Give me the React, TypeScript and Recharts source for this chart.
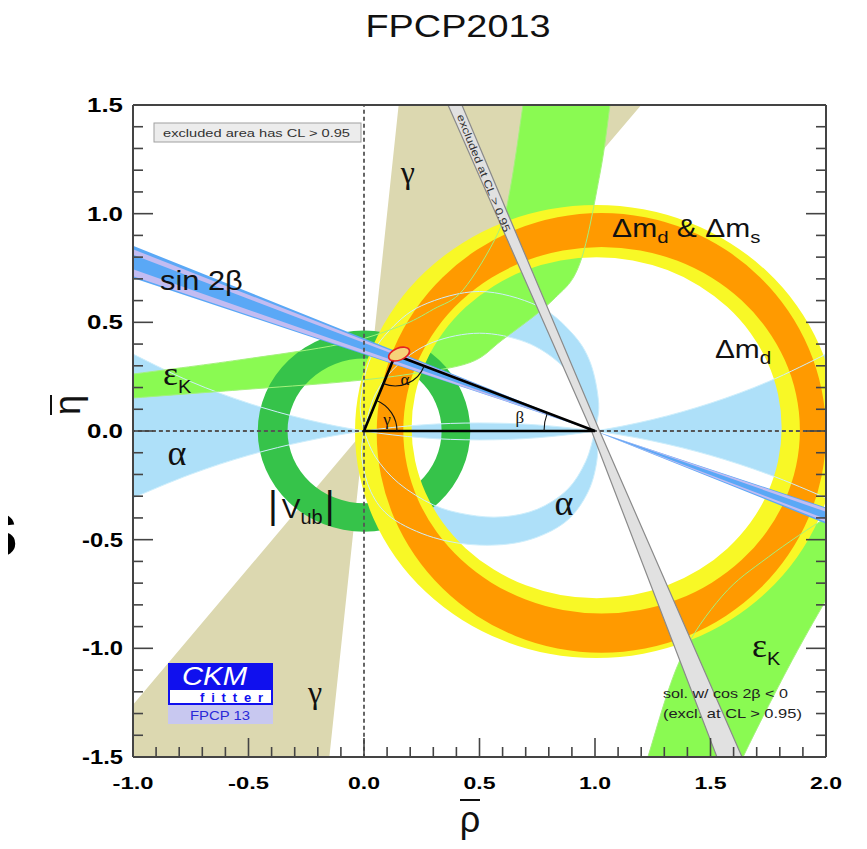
import React from 'react';
import { ComposedChart, Scatter, XAxis, YAxis } from 'recharts';

type Pt = { x: number; y: number };

const W = 851;
const H = 833;

// ---------- axes ----------
const rhoTicks = [-1.0, -0.9, -0.8, -0.7, -0.6, -0.5, -0.4, -0.3, -0.2, -0.1, 0.0, 0.1, 0.2, 0.3, 0.4, 0.5, 0.6, 0.7, 0.8, 0.9, 1.0, 1.1, 1.2, 1.3, 1.4, 1.5, 1.6, 1.7, 1.8, 1.9, 2.0];
const etaTicks = [-1.5, -1.4, -1.3, -1.2, -1.1, -1.0, -0.9, -0.8, -0.7, -0.6, -0.5, -0.4, -0.3, -0.2, -0.1, 0.0, 0.1, 0.2, 0.3, 0.4, 0.5, 0.6, 0.7, 0.8, 0.9, 1.0, 1.1, 1.2, 1.3, 1.4, 1.5];
const rhoMajor = [-1.0, -0.5, 0.0, 0.5, 1.0, 1.5, 2.0];
const rhoMajorLabels = ['-1.0', '-0.5', '0.0', '0.5', '1.0', '1.5', '2.0'];
const etaMajor = [-1.5, -1.0, -0.5, 0.0, 0.5, 1.0, 1.5];
const etaMajorLabels = ['-1.5', '-1.0', '-0.5', '0.0', '0.5', '1.0', '1.5'];

// ---------- constraint regions (rho-bar, eta-bar) ----------
const gammaWedge: Pt[] = [
  { x: 0, y: 0 }, { x: 0.16, y: 1.6 }, { x: 1.28, y: 1.6 },
  { x: 0, y: 0 }, { x: -1.27, y: -1.6 }, { x: -0.16, y: -1.6 },
];
const alphaAxisU: Pt[] = [
  { x: -1.1, y: 0.414 }, { x: -1.0, y: 0.354 }, { x: -0.75, y: 0.227 }, { x: -0.5, y: 0.128 }, { x: -0.25, y: 0.053 },
  { x: 0.0, y: 0.0 }, { x: 0.25, y: -0.031 }, { x: 0.5, y: -0.041 }, { x: 0.75, y: -0.031 }, { x: 1.0, y: 0.0 },
  { x: 1.25, y: 0.053 }, { x: 1.5, y: 0.128 }, { x: 1.75, y: 0.227 }, { x: 2.0, y: 0.354 }, { x: 2.1, y: 0.414 },
];
const alphaAxisL: Pt[] = [
  { x: 2.1, y: -0.359 }, { x: 2.0, y: -0.308 }, { x: 1.75, y: -0.199 }, { x: 1.5, y: -0.112 }, { x: 1.25, y: -0.046 },
  { x: 1.0, y: 0.0 }, { x: 0.75, y: 0.028 }, { x: 0.5, y: 0.037 }, { x: 0.25, y: 0.028 }, { x: 0.0, y: 0.0 },
  { x: -0.25, y: -0.046 }, { x: -0.5, y: -0.112 }, { x: -0.75, y: -0.199 }, { x: -1.0, y: -0.308 }, { x: -1.1, y: -0.359 },
];
const alphaUpOuter: Pt[] = [
  { x: 0, y: 0 }, { x: -0.016, y: 0.126 }, { x: 0.02, y: 0.314 }, { x: 0.1, y: 0.451 }, { x: 0.25, y: 0.577 },
  { x: 0.5, y: 0.642 }, { x: 0.75, y: 0.577 }, { x: 0.9, y: 0.451 }, { x: 0.98, y: 0.314 }, { x: 1.016, y: 0.126 }, { x: 1, y: 0 },
];
const alphaUpInner: Pt[] = [
  { x: 1, y: 0 }, { x: 0.95, y: 0.171 }, { x: 0.85, y: 0.308 }, { x: 0.7, y: 0.409 }, { x: 0.5, y: 0.45 },
  { x: 0.3, y: 0.409 }, { x: 0.15, y: 0.308 }, { x: 0.05, y: 0.171 }, { x: 0, y: 0 },
];
const alphaLoOuter: Pt[] = [
  { x: 0, y: 0 }, { x: -0.01, y: -0.12 }, { x: 0.03, y: -0.28 }, { x: 0.12, y: -0.4 }, { x: 0.3, y: -0.49 },
  { x: 0.5, y: -0.525 }, { x: 0.7, y: -0.505 }, { x: 0.87, y: -0.42 }, { x: 0.97, y: -0.28 }, { x: 1.01, y: -0.12 }, { x: 1, y: 0 },
];
const alphaLoInner: Pt[] = [
  { x: 1, y: 0 }, { x: 0.96, y: -0.14 }, { x: 0.88, y: -0.27 }, { x: 0.75, y: -0.36 }, { x: 0.6, y: -0.395 },
  { x: 0.45, y: -0.385 }, { x: 0.3, y: -0.34 }, { x: 0.15, y: -0.24 }, { x: 0.05, y: -0.12 }, { x: 0, y: 0 },
];
const epsKUpHi: Pt[] = [
  { x: -1.1, y: 0.248 }, { x: -1.0, y: 0.262 }, { x: -0.54, y: 0.327 }, { x: -0.1, y: 0.4 }, { x: 0.15, y: 0.48 },
  { x: 0.3, y: 0.56 }, { x: 0.429, y: 0.649 }, { x: 0.58, y: 0.911 }, { x: 0.632, y: 1.109 }, { x: 0.688, y: 1.5 }, { x: 0.71, y: 1.7 },
];
const epsKUpLo: Pt[] = [
  { x: 1.09, y: 1.7 }, { x: 1.065, y: 1.5 }, { x: 1.022, y: 1.187 }, { x: 0.935, y: 0.773 }, { x: 0.818, y: 0.603 },
  { x: 0.6, y: 0.42 }, { x: 0.459, y: 0.315 }, { x: 0.2, y: 0.262 }, { x: -0.1, y: 0.225 }, { x: -0.54, y: 0.189 },
  { x: -1.0, y: 0.152 }, { x: -1.1, y: 0.145 },
];
const epsKLoA: Pt[] = [
  { x: 2.1, y: -0.36 }, { x: 2.0, y: -0.4 }, { x: 1.75, y: -0.58 }, { x: 1.55, y: -0.76 }, { x: 1.368, y: -1.054 },
  { x: 1.229, y: -1.5 }, { x: 1.2, y: -1.62 },
];
const epsKLoB: Pt[] = [
  { x: 1.6, y: -1.62 }, { x: 1.641, y: -1.5 }, { x: 1.831, y: -1.1 }, { x: 2.0, y: -0.778 }, { x: 2.1, y: -0.61 },
];
// rings: [left, right, top, bottom]
const vubOuter = [-0.46, 0.46, 0.462, -0.463];
const vubInner = [-0.331, 0.336, 0.334, -0.333];
const dmdOuter = [-0.039, 2.05, 1.04, -1.045];
const dmdInner = [0.206, 1.808, 0.8, -0.77];
const dmsOuter = [0.055, 2.0, 1.003, -1.02];
const dmsInner = [0.17, 1.887, 0.847, -0.84];
const sin2bBand: Pt[] = [{ x: -1.1, y: 0.895 }, { x: 2.1, y: -0.469 }, { x: 2.1, y: -0.387 }, { x: -1.1, y: 0.739 }];
const sin2bStripeA: Pt[] = [{ x: -1.1, y: 0.878 }, { x: 2.1, y: -0.46 }, { x: 2.1, y: -0.446 }, { x: -1.1, y: 0.851 }];
const sin2bStripeB: Pt[] = [{ x: -1.1, y: 0.781 }, { x: 2.1, y: -0.409 }, { x: 2.1, y: -0.392 }, { x: -1.1, y: 0.748 }];
const cos2bExcl: Pt[] = [
  { x: 0.343, y: 1.55 }, { x: 0.985, y: 0 }, { x: 1.546, y: -1.55 },
  { x: 1.657, y: -1.55 }, { x: 1.02, y: 0 }, { x: 0.404, y: 1.55 },
];
const triangle: Pt[] = [{ x: 0, y: 0 }, { x: 1, y: 0 }, { x: 0.135, y: 0.35 }];
const fitPoint: Pt[] = [{ x: 0.152, y: 0.354 }];
const zeroV: Pt[] = [{ x: 0, y: -1.6 }, { x: 0, y: 1.6 }];
const zeroH: Pt[] = [{ x: -1.1, y: 0 }, { x: 2.1, y: 0 }];

// ---------- styling ----------
const C = {
  gamma: '#dcd8b0', alpha: '#aee0f9', alphaLine: '#cdeefc', epsK: '#8afa52', epsKLine: '#a4f27c',
  vub: '#36c34a', dmd: '#f8f826', dms: '#ff9a00',
  s2b: '#5aa8f6', s2bStripe: '#c2bcf2', excl: '#e1e1e1', exclEdge: '#8a8a8a',
};
const SANS = '"Liberation Sans", Arial, Helvetica, sans-serif';
const SERIF = '"Liberation Serif", "Times New Roman", serif';

// ---------- path helpers ----------
const f = (n: number) => n.toFixed(2);
function polyD(p: Pt[]) {
  return p.map((q, i) => (i ? 'L' : 'M') + f(q.x) + ',' + f(q.y)).join('') + 'Z';
}
function lineD(p: Pt[]) {
  return p.map((q, i) => (i ? 'L' : 'M') + f(q.x) + ',' + f(q.y)).join('');
}
function smoothD(p: Pt[], start: string) {
  let d = start + f(p[0].x) + ',' + f(p[0].y);
  for (let i = 0; i < p.length - 1; i++) {
    const p0 = p[i - 1] || p[i];
    const p1 = p[i];
    const p2 = p[i + 1];
    const p3 = p[i + 2] || p[i + 1];
    d += 'C' + f(p1.x + (p2.x - p0.x) / 6) + ',' + f(p1.y + (p2.y - p0.y) / 6) + ' ' +
      f(p2.x - (p3.x - p1.x) / 6) + ',' + f(p2.y - (p3.y - p1.y) / 6) + ' ' + f(p2.x) + ',' + f(p2.y);
  }
  return d;
}
function bandD(p: Pt[], n: number) {
  return smoothD(p.slice(0, n), 'M') + smoothD(p.slice(n), 'L') + 'Z';
}
function edgesD(p: Pt[], n: number) {
  return smoothD(p.slice(0, n), 'M') + smoothD(p.slice(n), 'M');
}
function ext(e: number[]): Pt[] {
  const [l, r, t, b] = e;
  const cy = (t + b) / 2;
  const cx = (l + r) / 2;
  return [{ x: l, y: cy }, { x: r, y: cy }, { x: cx, y: t }, { x: cx, y: b }];
}
function ellD(p: Pt[]) {
  const [L, R, T, B] = p;
  const cx = (L.x + R.x) / 2;
  const cy = (T.y + B.y) / 2;
  const rx = Math.abs(R.x - L.x) / 2;
  const ry = Math.abs(B.y - T.y) / 2;
  return `M${f(cx - rx)},${f(cy)}A${f(rx)},${f(ry)} 0 1 0 ${f(cx + rx)},${f(cy)}A${f(rx)},${f(ry)} 0 1 0 ${f(cx - rx)},${f(cy)}Z`;
}
function angleArc(V: Pt, P: Pt, Q: Pt, r: number) {
  const a1 = Math.atan2(P.y - V.y, P.x - V.x);
  const a2 = Math.atan2(Q.y - V.y, Q.x - V.x);
  let d = a2 - a1;
  while (d > Math.PI) d -= 2 * Math.PI;
  while (d < -Math.PI) d += 2 * Math.PI;
  const s = { x: V.x + r * Math.cos(a1), y: V.y + r * Math.sin(a1) };
  const e = { x: V.x + r * Math.cos(a2), y: V.y + r * Math.sin(a2) };
  return `M${f(s.x)},${f(s.y)}A${r},${r} 0 0 ${d > 0 ? 1 : 0} ${f(e.x)},${f(e.y)}`;
}

const Nothing = () => null;

function region(key: string, data: Pt[], draw: (p: Pt[]) => React.ReactElement) {
  return (
    <Scatter
      key={key}
      data={data}
      isAnimationActive={false}
      legendType="none"
      shape={Nothing}
      line={(lp: any) => (lp && lp.points && lp.points.length === data.length ? draw(lp.points) : <g />)}
    />
  );
}

function label(key: string, at: Pt, draw: (cx: number, cy: number) => React.ReactElement) {
  return (
    <Scatter
      key={key}
      data={[at]}
      isAnimationActive={false}
      legendType="none"
      shape={(p: any) => draw(p.cx, p.cy)}
    />
  );
}

function ST(props: any) {
  const { x, y, sx = 1, anchor = 'start', children, ...rest } = props;
  return (
    <g transform={`translate(${f(x)},${f(y)}) scale(${sx},1)`}>
      <text x={0} y={0} textAnchor={anchor} {...rest}>{children}</text>
    </g>
  );
}

// ---------- ticks ----------
const near = (a: number, b: number) => Math.abs(a - b) < 1e-6;
const TICK = '#444';
function BottomTick(props: any) {
  const { x, y, payload } = props;
  const i = rhoMajor.findIndex((m) => near(m, payload.value));
  const lab = i >= 0 ? rhoMajorLabels[i] : null;
  return (
    <g>
      <line x1={x} x2={x} y1={y} y2={y - (lab ? 19 : 10)} stroke={TICK} strokeWidth={1.6} />
      {lab && (
        <text x={x} y={y + 32} textAnchor="middle" fontFamily={SANS} fontWeight="bold" fontSize={17}
          textLength={lab.length > 3 ? 41 : 32} lengthAdjust="spacingAndGlyphs" fill="#000">{lab}</text>
      )}
    </g>
  );
}
function TopTick(props: any) {
  const { x, y, payload } = props;
  const major = rhoMajor.some((m) => near(m, payload.value));
  return <line x1={x} x2={x} y1={y} y2={y + (major ? 19 : 10)} stroke={TICK} strokeWidth={1.6} />;
}
function LeftTick(props: any) {
  const { x, y, payload } = props;
  const i = etaMajor.findIndex((m) => near(m, payload.value));
  const lab = i >= 0 ? etaMajorLabels[i] : null;
  return (
    <g>
      <line x1={x} x2={x + (lab ? 20 : 10)} y1={y} y2={y} stroke={TICK} strokeWidth={1.6} />
      {lab && (
        <text x={x - 10} y={y + 7} textAnchor="end" fontFamily={SANS} fontWeight="bold" fontSize={20}
          textLength={lab.length > 3 ? 41 : 36} lengthAdjust="spacingAndGlyphs" fill="#000">{lab}</text>
      )}
    </g>
  );
}
function RightTick(props: any) {
  const { x, y, payload } = props;
  const major = etaMajor.some((m) => near(m, payload.value));
  return <line x1={x} x2={x - (major ? 20 : 10)} y1={y} y2={y} stroke={TICK} strokeWidth={1.6} />;
}

const axisLine = { stroke: '#444', strokeWidth: 2 };

export default function App() {
  const bigGreek = { fontFamily: SERIF, fontSize: 36, fill: '#111' };
  const thin = { fill: 'none', strokeWidth: 1 };
  return (
    <div style={{ position: 'relative', width: W, height: H }}>
      <ComposedChart width={W} height={H} margin={{ top: 77, right: 13, bottom: 44, left: 65 }}>
        {region('gamma', gammaWedge, (p) => <path d={polyD(p)} fill={C.gamma} />)}
        {region('alphaAxis', [...alphaAxisU, ...alphaAxisL], (p) => <path d={bandD(p, alphaAxisU.length)} fill={C.alpha} />)}
        {region('alphaUp', [...alphaUpOuter, ...alphaUpInner], (p) => <path d={bandD(p, alphaUpOuter.length)} fill={C.alpha} />)}
        {region('alphaLo', [...alphaLoOuter, ...alphaLoInner], (p) => <path d={bandD(p, alphaLoOuter.length)} fill={C.alpha} />)}
        {region('epsKUp', [...epsKUpHi, ...epsKUpLo], (p) => <path d={bandD(p, epsKUpHi.length)} fill={C.epsK} />)}
        {region('epsKLo', [...epsKLoA, ...epsKLoB], (p) => <path d={bandD(p, epsKLoA.length)} fill={C.epsK} />)}
        {region('vub', [...ext(vubOuter), ...ext(vubInner)], (p) => (
          <path d={ellD(p.slice(0, 4)) + ellD(p.slice(4))} fill={C.vub} fillRule="evenodd" />
        ))}
        {region('dmd', [...ext(dmdOuter), ...ext(dmdInner)], (p) => (
          <path d={ellD(p.slice(0, 4)) + ellD(p.slice(4))} fill={C.dmd} fillRule="evenodd" />
        ))}
        {region('dms', [...ext(dmsOuter), ...ext(dmsInner)], (p) => (
          <path d={ellD(p.slice(0, 4)) + ellD(p.slice(4))} fill={C.dms} fillRule="evenodd" />
        ))}
        {region('alphaAxisLine', [...alphaAxisU, ...alphaAxisL], (p) => <path d={edgesD(p, alphaAxisU.length)} stroke={C.alphaLine} {...thin} />)}
        {region('alphaUpLine', [...alphaUpOuter, ...alphaUpInner], (p) => <path d={edgesD(p, alphaUpOuter.length)} stroke={C.alphaLine} {...thin} />)}
        {region('alphaLoLine', [...alphaLoOuter, ...alphaLoInner], (p) => <path d={edgesD(p, alphaLoOuter.length)} stroke={C.alphaLine} {...thin} />)}
        {region('epsKUpLine', [...epsKUpHi, ...epsKUpLo], (p) => <path d={edgesD(p, epsKUpHi.length)} stroke={C.epsKLine} {...thin} />)}
        {region('epsKLoLine', [...epsKLoA, ...epsKLoB], (p) => <path d={edgesD(p, epsKLoA.length)} stroke={C.epsKLine} {...thin} />)}

        {region('s2b', sin2bBand, (p) => <path d={polyD(p)} fill={C.s2b} />)}
        {region('s2bA', sin2bStripeA, (p) => <path d={polyD(p)} fill={C.s2bStripe} />)}
        {region('s2bB', sin2bStripeB, (p) => <path d={polyD(p)} fill={C.s2bStripe} />)}
        {region('excl', cos2bExcl, (p) => <path d={polyD(p)} fill={C.excl} stroke={C.exclEdge} strokeWidth={1.2} />)}
        {region('zeroV', zeroV, (p) => <path d={lineD(p)} stroke="#555" strokeWidth={1.8} strokeDasharray="4 3" fill="none" />)}
        {region('zeroH', zeroH, (p) => <path d={lineD(p)} stroke="#555" strokeWidth={1.8} strokeDasharray="4 3" fill="none" />)}
        {region('tri', triangle, (p) => {
          const [A, B, Cc] = p;
          return (
            <g>
              <path d={polyD(p)} fill="none" stroke="#000" strokeWidth={2.6} strokeLinejoin="miter" />
              <path d={angleArc(A, B, Cc, 33) + angleArc(B, Cc, A, 51) + angleArc(Cc, A, B, 31)} fill="none" stroke="#111" strokeWidth={1.1} />
            </g>
          );
        })}
        {region('fit', fitPoint, (p) => (
          <ellipse cx={p[0].x} cy={p[0].y} rx={11} ry={6} transform={`rotate(-22 ${f(p[0].x)} ${f(p[0].y)})`}
            fill="#f6d27a" stroke="#e52222" strokeWidth={1.6} />
        ))}

        {label('lSin2b', { x: -0.883, y: 0.649 }, (x, y) => (
          <ST x={x} y={y} sx={1.1} fontFamily={SANS} fontSize={28} fill="#111">sin 2β</ST>
        ))}
        {label('lEpsK1', { x: -0.87, y: 0.212 }, (x, y) => (
          <ST x={x} y={y} sx={1.05} fontFamily={SERIF} fontSize={34} fill="#111">ε<tspan fontFamily={SANS} fontSize={19} dy={8}>K</tspan></ST>
        ))}
        {label('lAlpha1', { x: -0.81, y: -0.156 }, (x, y) => (
          <ST x={x} y={y} anchor="middle" {...bigGreek}>α</ST>
        ))}
        {label('lVub', { x: -0.416, y: -0.4 }, (x, y) => (
          <ST x={x} y={y} fontFamily={SANS} fontSize={28} fill="#111">
            <tspan fontSize={38}>|</tspan><tspan dx={4}>V</tspan><tspan fontSize={20} dy={6}>ub</tspan><tspan fontSize={38} dy={-6} dx={2}>|</tspan>
          </ST>
        ))}
        {label('lAlpha2', { x: 0.866, y: -0.387 }, (x, y) => (
          <ST x={x} y={y} anchor="middle" {...bigGreek}>α</ST>
        ))}
        {label('lDmds', { x: 1.074, y: 0.893 }, (x, y) => (
          <ST x={x} y={y} sx={1.2} fontFamily={SANS} fontSize={25} fill="#111">
            Δm<tspan fontSize={17} dy={6}>d</tspan><tspan dy={-6}> &amp; Δm</tspan><tspan fontSize={17} dy={6}>s</tspan>
          </ST>
        ))}
        {label('lDmd', { x: 1.519, y: 0.336 }, (x, y) => (
          <ST x={x} y={y} sx={1.15} fontFamily={SANS} fontSize={26} fill="#111">
            Δm<tspan fontSize={18} dy={6}>d</tspan>
          </ST>
        ))}
        {label('lEpsK2', { x: 1.68, y: -1.04 }, (x, y) => (
          <ST x={x} y={y} sx={1.05} fontFamily={SERIF} fontSize={34} fill="#111">ε<tspan fontFamily={SANS} fontSize={19} dy={8}>K</tspan></ST>
        ))}
        {label('lGamma1', { x: 0.19, y: 1.141 }, (x, y) => (
          <ST x={x} y={y} anchor="middle" fontFamily={SERIF} fontSize={32} fill="#111">γ</ST>
        ))}
        {label('lGamma2', { x: -0.212, y: -1.252 }, (x, y) => (
          <ST x={x} y={y} anchor="middle" fontFamily={SERIF} fontSize={32} fill="#111">γ</ST>
        ))}
        {label('lSol', { x: 1.294, y: -1.229 }, (x, y) => (
          <text x={x} y={y} fontFamily={SANS} fontSize={13} fill="#222" textLength={125} lengthAdjust="spacingAndGlyphs">sol. w/ cos 2β &lt; 0</text>
        ))}
        {label('lExcl', { x: 1.294, y: -1.321 }, (x, y) => (
          <text x={x} y={y} fontFamily={SANS} fontSize={13} fill="#222" textLength={139} lengthAdjust="spacingAndGlyphs">(excl. at CL &gt; 0.95)</text>
        ))}
        {label('lA', { x: 0.177, y: 0.212 }, (x, y) => (
          <text x={x} y={y} textAnchor="middle" fontFamily={SERIF} fontSize={17} fill="#111">α</text>
        ))}
        {label('lG', { x: 0.1, y: 0.028 }, (x, y) => (
          <text x={x} y={y} textAnchor="middle" fontFamily={SERIF} fontSize={17} fill="#111">γ</text>
        ))}
        {label('lB', { x: 0.675, y: 0.037 }, (x, y) => (
          <text x={x} y={y} textAnchor="middle" fontFamily={SERIF} fontSize={17} fill="#111">β</text>
        ))}

        <XAxis xAxisId={0} dataKey="x" type="number" domain={[-1, 2]} allowDataOverflow ticks={rhoTicks} interval={0}
          orientation="bottom" height={40} tickLine={false} tickSize={0} tickMargin={0} axisLine={axisLine}
          tick={(p: any) => <BottomTick {...p} />} zIndex={2000} />
        <XAxis xAxisId="top" type="number" domain={[-1, 2]} allowDataOverflow ticks={rhoTicks} interval={0}
          orientation="top" height={20} tickLine={false} tickSize={0} tickMargin={0} axisLine={axisLine}
          tick={(p: any) => <TopTick {...p} />} zIndex={2000} />
        <YAxis yAxisId={0} dataKey="y" type="number" domain={[-1.5, 1.5]} allowDataOverflow ticks={etaTicks} interval={0}
          orientation="left" width={60} tickLine={false} tickSize={0} tickMargin={0} axisLine={axisLine}
          tick={(p: any) => <LeftTick {...p} />} zIndex={2000} />
        <YAxis yAxisId="right" type="number" domain={[-1.5, 1.5]} allowDataOverflow ticks={etaTicks} interval={0}
          orientation="right" width={20} tickLine={false} tickSize={0} tickMargin={0} axisLine={axisLine}
          tick={(p: any) => <RightTick {...p} />} zIndex={2000} />
      </ComposedChart>

      <svg width={W} height={H} style={{ position: 'absolute', left: 0, top: 0, overflow: 'visible', pointerEvents: 'none' }}>
        <text x={450} y={29} textAnchor="middle" fontFamily={SANS} fontSize={32} fill="#111" textLength={185} lengthAdjust="spacingAndGlyphs">FPCP2013</text>
        <text x={462} y={824} textAnchor="middle" fontFamily={SANS} fontSize={36} fill="#111">ρ</text>
        <line x1={452} x2={472} y1={792} y2={792} stroke="#111" strokeWidth={2} />
        <g transform="translate(62,397) rotate(-90)">
          <text x={0} y={10} textAnchor="middle" fontFamily={SANS} fontSize={36} fill="#111">η</text>
          <line x1={-10} x2={10} y1={-19} y2={-19} stroke="#111" strokeWidth={2} />
        </g>
        <rect x={146} y={115} width={207} height={19} fill="#ececec" stroke="#a0a0a0" strokeWidth={1} />
        <text x={155} y={129} fontFamily={SANS} fontSize={11} fill="#333" textLength={187} lengthAdjust="spacingAndGlyphs">excluded area has CL &gt; 0.95</text>
        <g transform="translate(476,165) rotate(68)">
          <text x={0} y={4} textAnchor="middle" fontFamily={SANS} fontSize={10.5} fill="#333" textLength={126} lengthAdjust="spacingAndGlyphs">excluded at CL &gt; 0.95</text>
        </g>
        <rect x={160} y={655} width={105} height={42} fill="#1010ee" />
        <rect x={162} y={682} width={101} height={13} fill="#ffffff" />
        <rect x={160} y={697} width={105} height={19} fill="#c8c8f0" />
        <text x={174} y={677} fontFamily={SANS} fontStyle="italic" fontSize={25} fill="#ffffff" textLength={65} lengthAdjust="spacingAndGlyphs">CKM</text>
        <text x={192} y={694} fontFamily={SANS} fontWeight="bold" fontSize={13} fill="#1010ee" textLength={63} lengthAdjust="spacing">fitter</text>
        <text x={182} y={712} fontFamily={SANS} fontSize={13} fill="#2a2ad8" textLength={60} lengthAdjust="spacingAndGlyphs">FPCP 13</text>
      </svg>
      {/* glyph of a neighbouring slide, cut by the left page edge */}
      <div style={{ position: 'absolute', left: -34, top: 481, fontFamily: SANS, fontWeight: 'bold', fontSize: 80, lineHeight: 1, color: '#000', pointerEvents: 'none' }}>s</div>
    </div>
  );
}
